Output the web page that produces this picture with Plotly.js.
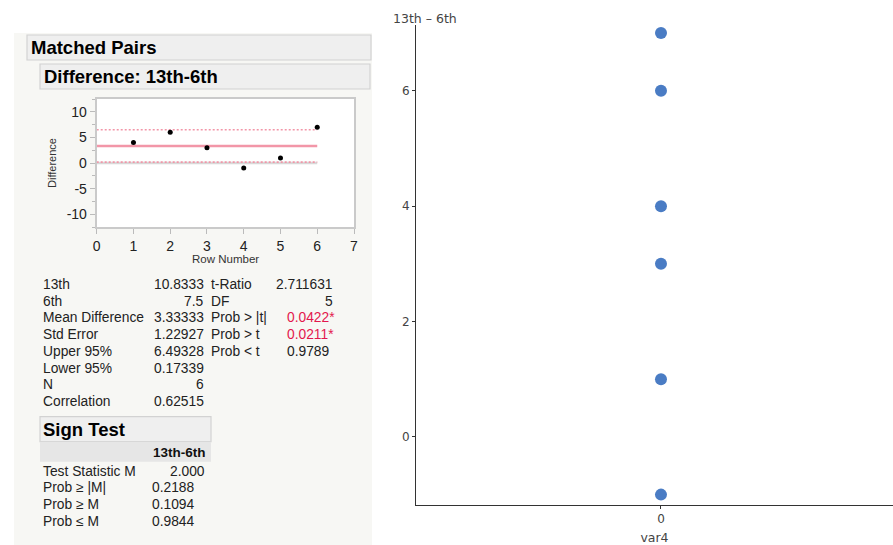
<!DOCTYPE html>
<html><head><meta charset="utf-8">
<script src="https://cdn.plot.ly/plotly-3.0.1.min.js"></script>
<style>html,body{margin:0;padding:0;background:#fff}#c{width:893px;height:545px}</style>
</head><body><div id="c"></div>
<script>
// ---- data ----
const groupCat = [0, 0, 0, 0, 0, 0];
const diffValues = [7, 6, 4, 3, 1, -1];
const rowNumbers = [1, 2, 3, 4, 5, 6];
const rowDiffs = [4, 6, 3, -1, 1, 7];
const meanDiff = 3.33333;
const upper95 = 6.49328;
const lower95 = 0.17339;
const insetYTicks = [-10, -5, 0, 5, 10];
const insetYTickText = ["-10", "-5", "0", "5", "10"];
const statLabels = ["13th", "6th", "Mean Difference", "Std Error", "Upper 95%", "Lower 95%", "N", "Correlation"];
const statValues = ["10.8333", "7.5", "3.33333", "1.22927", "6.49328", "0.17339", "6", "0.62515"];
const testLabels = ["t-Ratio", "DF", "Prob > |t|", "Prob > t", "Prob < t"];
const testValues = ["2.711631", "5", "0.0422*", "0.0211*", "0.9789"];
const signLabels = ["Test Statistic M", "Prob ≥ |M|", "Prob ≥ M", "Prob ≤ M"];
const signValues = ["2.000", "0.2188", "0.1094", "0.9844"];

// ---- helpers (pixel -> paper) ----
const W = 893, H = 545;
const px = x => x / W, py = y => 1 - y / H;
const LF = "Liberation Sans, Arial, sans-serif";
const RF = "DejaVu Sans, sans-serif";
const pink = "rgb(242,150,168)";
const FS = 13.8;

const lastRow = rowNumbers[rowNumbers.length - 1];
const traces = [
  {x: groupCat, y: diffValues, type: "scatter", mode: "markers", xaxis: "x", yaxis: "y",
   marker: {color: "#4a7cc4", size: 12}, hoverinfo: "skip"},
  {x: [0, lastRow], y: [0, 0], mode: "lines", xaxis: "x2", yaxis: "y2",
   line: {color: "#d8d8d8", width: 2.5}, hoverinfo: "skip"},
  {x: [0, lastRow], y: [meanDiff, meanDiff], mode: "lines", xaxis: "x2", yaxis: "y2",
   line: {color: pink, width: 2.5}, hoverinfo: "skip"},
  {x: [0, lastRow], y: [upper95, upper95], mode: "lines", xaxis: "x2", yaxis: "y2",
   line: {color: pink, width: 1.6, dash: "2px,2px"}, hoverinfo: "skip"},
  {x: [0, lastRow], y: [lower95, lower95], mode: "lines", xaxis: "x2", yaxis: "y2",
   line: {color: pink, width: 1.6, dash: "2px,2px"}, hoverinfo: "skip"},
  {x: rowNumbers, y: rowDiffs, type: "scatter", mode: "markers", xaxis: "x2", yaxis: "y2",
   marker: {color: "#000", size: 5}, hoverinfo: "skip"}
];

const shapes = [
  {type: "rect", xref: "paper", yref: "paper", x0: px(14), x1: px(372), y0: py(545), y1: py(33),
   fillcolor: "#f7f7f4", line: {width: 0}, layer: "below"},
  {type: "rect", xref: "paper", yref: "paper", x0: px(27), x1: px(371), y0: py(60), y1: py(35),
   fillcolor: "#efefef", line: {color: "#d2d2d2", width: 1.2}, layer: "below"},
  {type: "rect", xref: "paper", yref: "paper", x0: px(40), x1: px(370), y0: py(89), y1: py(64),
   fillcolor: "#efefef", line: {color: "#d2d2d2", width: 1.2}, layer: "below"},
  {type: "rect", xref: "paper", yref: "paper", x0: px(96.7), x1: px(354), y0: py(227), y1: py(99),
   fillcolor: "#ffffff", line: {width: 0}, layer: "below"},
  {type: "rect", xref: "paper", yref: "paper", x0: px(40), x1: px(211), y0: py(441.7), y1: py(416.7),
   fillcolor: "#efefef", line: {color: "#d2d2d2", width: 1.2}, layer: "below"},
  {type: "rect", xref: "paper", yref: "paper", x0: px(40), x1: px(211), y0: py(461.7), y1: py(441.7),
   fillcolor: "#e6e6e6", line: {width: 0}, layer: "below"}
];

const ann = [];
const PAD = 2;
function txt(x, y, t, opts) {
  const o = Object.assign({xanchor: "left"}, opts || {});
  const dx = o.xanchor === "left" ? -PAD : (o.xanchor === "right" ? PAD : 0);
  ann.push(Object.assign({xref: "paper", yref: "paper", x: px(x + dx), y: py(y), text: t, showarrow: false,
    yanchor: "middle", font: {family: LF, size: FS, color: "#222"}}, o));
}
txt(31, 47.5, "<b>Matched Pairs</b>", {font: {family: LF, size: 18.5, color: "#000"}});
txt(44, 76.5, "<b>Difference: 13th-6th</b>", {font: {family: LF, size: 18.5, color: "#000"}});
txt(43, 429, "<b>Sign Test</b>", {font: {family: LF, size: 18.5, color: "#000"}});
txt(206, 452, "<b>13th-6th</b>", {xanchor: "right", font: {family: LF, size: 13.5, color: "#111"}});
const r0 = 284.3, dr = 16.75;
statLabels.forEach((s, i) => txt(43.3, r0 + i * dr, s));
statValues.forEach((s, i) => txt(203.5, r0 + i * dr, s, {xanchor: "right"}));
testLabels.forEach((s, i) => txt(210.7, r0 + i * dr, s));
testValues.forEach((s, i) => {
  if (i < 2) txt(333, r0 + i * dr, s, {xanchor: "right"});
  else txt(286.7, r0 + i * dr, s, {font: {family: LF, size: FS, color: s.endsWith("*") ? "#e3174d" : "#222"}});
});
const s0 = 471, ds = 16.7;
signLabels.forEach((s, i) => txt(43.3, s0 + i * ds, s));
signValues.forEach((s, i) => {
  if (i === 0) txt(205, s0, s, {xanchor: "right"});
  else txt(152.3, s0 + i * ds, s);
});
// inset axis titles
txt(225, 258.5, "Row Number", {xanchor: "center", font: {family: LF, size: 11.5, color: "#333"}});
ann.push({xref: "paper", yref: "paper", x: px(52), y: py(163), text: "Difference", textangle: -90,
  showarrow: false, xanchor: "center", yanchor: "middle", font: {family: LF, size: 11, color: "#333"}});
// main chart y title
ann.push({xref: "paper", yref: "paper", x: px(425), y: py(18), text: "13th – 6th", showarrow: false,
  xanchor: "center", yanchor: "middle", font: {family: RF, size: 12.5, color: "#444"}});

const layout = {
  width: W, height: H, margin: {l: 0, r: 0, t: 0, b: 0},
  paper_bgcolor: "#fff", plot_bgcolor: "rgba(0,0,0,0)", showlegend: false,
  xaxis: {domain: [px(416), 1], range: [-1, 0.947], tickvals: [0], ticks: "outside", ticklen: 3,
    tickcolor: "#333", showline: true, linecolor: "#333", linewidth: 1, showgrid: false, zeroline: false,
    tickfont: {family: RF, size: 12, color: "#444"},
    title: {text: "var4", font: {family: RF, size: 12.5, color: "#444"}, standoff: 8}, fixedrange: true},
  yaxis: {domain: [py(505), py(25)], range: [-1.18, 7.14], dtick: 2, tick0: 0, ticks: "outside", ticklen: 3,
    tickcolor: "#333", showline: true, linecolor: "#333", linewidth: 1, showgrid: false, zeroline: false,
    tickfont: {family: RF, size: 12, color: "#444"}, fixedrange: true},
  xaxis2: {domain: [px(96.7), px(354)], anchor: "y2", range: [0, 7], dtick: 1, tick0: 0, ticks: "outside",
    ticklen: 5, tickcolor: "#bbb", showline: true, mirror: true, linecolor: "#cacaca", linewidth: 2,
    showgrid: false, zeroline: false, tickfont: {family: LF, size: 14, color: "#222"}, fixedrange: true},
  yaxis2: {domain: [py(227), py(99)], anchor: "x2", range: [-12.5, 12.5], tickvals: insetYTicks,
    ticktext: insetYTickText, ticks: "outside", ticklen: 5, tickcolor: "#bbb", showline: true, mirror: true,
    linecolor: "#cacaca", linewidth: 2, showgrid: false, zeroline: false,
    tickfont: {family: LF, size: 14, color: "#222"},
    minor: {tickvals: [-12.5, -7.5, -2.5, 2.5, 7.5, 12.5], ticks: "outside", ticklen: 3, tickcolor: "#bbb"},
    fixedrange: true},
  shapes: shapes, annotations: ann
};
Plotly.newPlot("c", traces, layout, {displayModeBar: false, staticPlot: true});
</script></body></html>
